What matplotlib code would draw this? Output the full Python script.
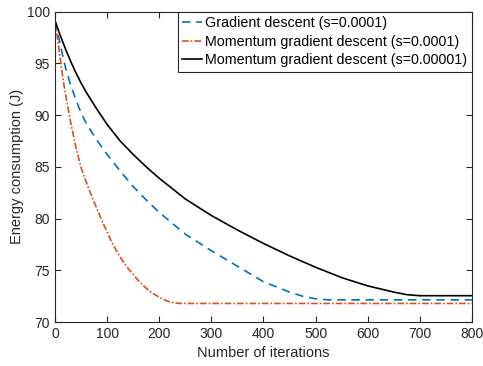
import matplotlib
matplotlib.use("Agg")
import matplotlib.pyplot as plt

# iterations and energy (J)
gd_x = [0, 10, 20, 30, 40, 50, 60, 80, 100, 125, 150, 175, 200, 250, 300, 350, 400, 450, 475, 500, 525, 800]
gd_y = [99.1, 96.8, 94.6, 92.9, 91.5, 90.2, 89.2, 87.6, 86.2, 84.6, 83.1, 81.8, 80.6, 78.5, 76.9, 75.4, 73.9, 72.9, 72.5, 72.25, 72.15, 72.15]

mgd_x = [0, 5, 10, 15, 20, 30, 40, 50, 60, 70, 80, 90, 100, 110, 120, 130, 140, 150, 160, 170, 180, 190, 200, 210, 220, 230, 240, 800]
mgd_y = [99.1, 97.3, 95.4, 93.6, 92.0, 89.3, 86.9, 84.9, 83.5, 82.2, 81.0, 79.8, 78.7, 77.6, 76.7, 75.9, 75.2, 74.6, 74.0, 73.5, 73.05, 72.7, 72.4, 72.15, 71.95, 71.85, 71.8, 71.8]

mgd2_x = [0, 10, 20, 30, 40, 50, 60, 80, 100, 125, 150, 175, 200, 250, 300, 350, 400, 450, 500, 550, 600, 650, 675, 700, 800]
mgd2_y = [99.1, 97.7, 96.4, 95.2, 94.1, 93.1, 92.2, 90.6, 89.1, 87.5, 86.2, 85.0, 83.9, 81.9, 80.3, 78.9, 77.6, 76.4, 75.3, 74.3, 73.5, 72.9, 72.65, 72.55, 72.55]

labels = ["Gradient descent (s=0.0001)",
          "Momentum gradient descent (s=0.0001)",
          "Momentum gradient descent (s=0.00001)"]

plt.rcParams['font.family'] = ['Liberation Sans', 'DejaVu Sans']
dark = '#262626'

fig = plt.figure(figsize=(4.83, 3.66), dpi=100)
ax = fig.add_axes([0.114, 0.120, 0.863, 0.848])

ax.plot(gd_x, gd_y, color='#0072BD', linestyle=(0, (5, 3.5)), linewidth=1.2, label=labels[0])
ax.plot(mgd_x, mgd_y, color='#D95319', linestyle=(0, (4, 1.2, 1, 1.2)), linewidth=1.2, label=labels[1])
ax.plot(mgd2_x, mgd2_y, color='black', linestyle='-', linewidth=1.2, label=labels[2])

ax.set_xlim(0, 800)
ax.set_ylim(70, 100)
ax.set_xticks(range(0, 801, 100))
ax.set_yticks(range(70, 101, 5))
ax.tick_params(direction='in', top=True, right=True, labelsize=10, colors=dark, length=4)
for s in ax.spines.values():
    s.set_color(dark)
    s.set_linewidth(0.8)

ax.set_xlabel('Number of iterations', fontsize=10.5, color=dark, labelpad=4)
ax.set_ylabel('Energy consumption (J)', fontsize=10.5, color=dark, labelpad=2)

leg = ax.legend(loc='upper right', fontsize=10.3, fancybox=False, framealpha=1,
                edgecolor=dark, borderaxespad=0, handlelength=1.4,
                handletextpad=0.25, borderpad=0.3, labelspacing=0.33)
leg.get_frame().set_linewidth(0.8)

fig.savefig('out.png', dpi=100)
